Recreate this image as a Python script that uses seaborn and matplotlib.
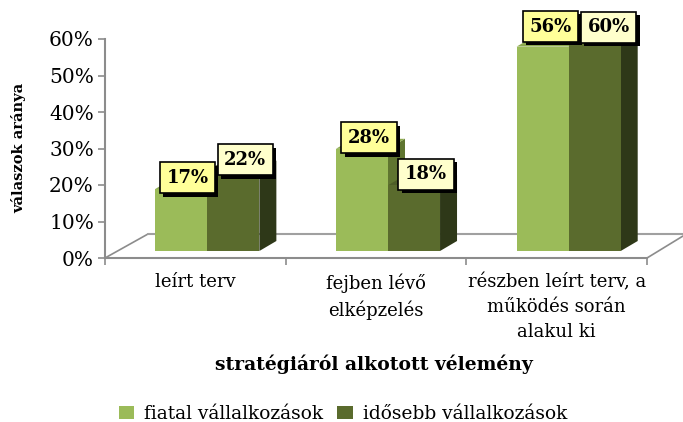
import matplotlib
matplotlib.use("Agg")
import matplotlib.pyplot as plt
from matplotlib.patches import Polygon, Patch
from matplotlib.patheffects import withSimplePatchShadow
from matplotlib.transforms import Affine2D
import pandas as pd
import seaborn as sns

categories = ["leírt terv", "fejben lévő\nelképzelés", "részben leírt terv, a\nműködés során\nalakul ki"]
young = [17, 28, 56]
older = [22, 18, 60]
series_names = ["fiatal vállalkozások", "idősebb vállalkozások"]
y_ticks = [0, 10, 20, 30, 40, 50, 60]
y_tick_labels = ["0%", "10%", "20%", "30%", "40%", "50%", "60%"]
x_title = "stratégiáról alkotott vélemény"
y_title = "válaszok aránya"

front_colors = ["#9BBB59", "#5A6B2D"]
side_colors = ["#5F7530", "#2E3818"]
top_colors = ["#8CA94E", "#4E5E27"]
box_colors = ["#FFFF99", "#FFFFCC"]
label_offsets = [[(6, 11), (7, 11), (8, 20)], [(12, 11), (12, 11), (14, 5)]]
SERIF = "DejaVu Serif"
GREY = "#8C8C8C"

sns.set_theme(style="white")
plt.rcParams["font.family"] = [SERIF]

W, H = 683, 422
fig = plt.figure(figsize=(W / 100, H / 100), dpi=100)
ax = fig.add_axes([105 / W, (H - 258) / H, (647 - 105) / W, (258 - 39) / H])

df = pd.DataFrame({
    "cat": categories * 2,
    "val": young + older,
    "series": [series_names[0]] * 3 + [series_names[1]] * 3,
})
sns.barplot(data=df, x="cat", y="val", hue="series", hue_order=series_names,
            palette=front_colors, saturation=1, width=0.576, gap=0, legend=False,
            linewidth=0, ax=ax, zorder=3)
ax.set_xlim(-0.5, 2.5)
ax.set_ylim(0, 60)

# 3-D look: shift the front faces forward and add side and top faces
shift = Affine2D().translate(12, 7)
trans = ax.transData + shift
dx = 17 / (542 / 3)
dy = 10 / (219 / 60)
for s, cont in enumerate(ax.containers):
    for i, bar in enumerate(cont):
        bar.set_transform(trans)
        bar.set_clip_on(False)
        x0, w, h = bar.get_x(), bar.get_width(), bar.get_height()
        x1 = x0 + w
        side = Polygon([(x1, 0), (x1 + dx, dy), (x1 + dx, h + dy), (x1, h)],
                       closed=True, fc=side_colors[s], ec="none", transform=trans,
                       clip_on=False, zorder=2)
        top = Polygon([(x0, h), (x0 + dx, h + dy), (x1 + dx, h + dy), (x1, h)],
                      closed=True, fc=top_colors[s], ec="none", transform=trans,
                      clip_on=False, zorder=2)
        ax.add_patch(side)
        ax.add_patch(top)
        ox, oy = label_offsets[s][i]
        ann = ax.annotate(f"{h:.0f}%", xy=(x0 + w / 2, h), xycoords="data",
                          xytext=(12 + ox, 7 + oy), textcoords="offset pixels",
                          ha="center", va="center", fontsize=13, fontweight="bold",
                          color="black", zorder=6,
                          bbox=dict(boxstyle="square,pad=0.36", fc=box_colors[s],
                                    ec="black", lw=1.2))
        ann.get_bbox_patch().set_path_effects(
            [withSimplePatchShadow(offset=(2.4, -2.4), shadow_rgbFace="black", alpha=1)])

# floor outline
ax.plot([0, 43 / 542], [0, 24 / 219], transform=ax.transAxes, color=GREY, lw=1.2, clip_on=False, zorder=1)
ax.plot([43 / 542, 578 / 542], [24 / 219, 24 / 219], transform=ax.transAxes, color="#A0A0A0", lw=1.5, clip_on=False, zorder=1)
ax.plot([1, 578 / 542], [0, 22 / 219], transform=ax.transAxes, color=GREY, lw=1.2, clip_on=False, zorder=1)

sns.despine(ax=ax)
for sp in ("left", "bottom"):
    ax.spines[sp].set_color(GREY)
    ax.spines[sp].set_linewidth(1.5)

ax.set_yticks(y_ticks, y_tick_labels)
ax.tick_params(axis="y", left=True, length=5, width=1.2, color=GREY, labelsize=14.5, pad=3, labelcolor="black")
ax.set_xticks([-0.5, 0.5, 1.5, 2.5], minor=True)
ax.tick_params(axis="x", which="minor", bottom=True, length=5, width=1.2, color=GREY)
ax.tick_params(axis="x", which="major", bottom=False, length=0, labelsize=13, pad=11, labelcolor="black")
for t in ax.get_xticklabels():
    t.set_linespacing(1.5)
    t.set_va("top")
ax.set_xlabel("")
ax.set_ylabel("")
fig.text(374 / W, 1 - 364 / H, x_title, ha="center", va="center", fontsize=13.5, fontweight="bold", color="black")
fig.text(19 / W, 1 - 148 / H, y_title, rotation=90, ha="center", va="center", fontsize=10.5, fontweight="bold", color="black")

handles = [Patch(fc=c, ec="none") for c in front_colors]
fig.legend(handles, series_names, loc="center", bbox_to_anchor=(343 / W, 1 - 414 / H), ncol=2,
           frameon=False, fontsize=13.4, handlelength=0.82, handleheight=0.7, handletextpad=0.55,
           columnspacing=0.75, labelcolor="black", borderpad=0)

fig.savefig("out.png", dpi=100)
